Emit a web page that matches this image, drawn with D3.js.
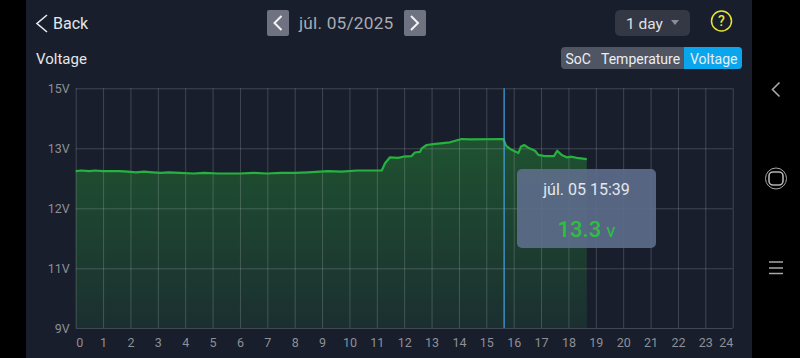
<!DOCTYPE html>
<html>
<head>
<meta charset="utf-8">
<script src="https://cdn.jsdelivr.net/npm/d3@7"></script>
<style>
  html, body { margin: 0; padding: 0; background: #000; overflow: hidden; }
  svg { display: block; font-family: Roboto, sans-serif; }
  .domain { display: none; }
</style>
</head>
<body>
<svg id="chart" width="800" height="358"></svg>
<script>
// values
const hours = [0, 0.2, 0.5, 0.7, 1, 1.3, 1.6, 1.9, 2.2, 2.5, 2.8, 3.1, 3.4, 3.8, 4.3, 4.7, 5.2, 5.6, 6, 6.5, 7, 7.5, 8, 8.5, 9.2, 9.7, 10.3, 11.12, 11.18, 11.3, 11.48, 11.78, 11.96, 12.27, 12.39, 12.58, 12.64, 12.82, 13.06, 13.67, 14.1, 14.4, 15.62, 15.72, 15.87, 16.17, 16.26, 16.38, 16.53, 16.78, 16.9, 17.14, 17.47, 17.59, 17.75, 17.94, 18.12, 18.3, 18.67];
const volts = [12.62, 12.63, 12.62, 12.63, 12.62, 12.62, 12.62, 12.61, 12.6, 12.61, 12.6, 12.59, 12.6, 12.59, 12.58, 12.59, 12.58, 12.58, 12.58, 12.59, 12.58, 12.59, 12.59, 12.6, 12.62, 12.61, 12.63, 12.63, 12.63, 12.75, 12.85, 12.84, 12.86, 12.87, 12.93, 12.94, 13.0, 13.11, 13.14, 13.2, 13.31, 13.3, 13.31, 13.09, 12.99, 12.92, 13.05, 13.11, 13.02, 12.96, 12.89, 12.87, 12.87, 12.96, 12.89, 12.85, 12.86, 12.84, 12.82];
const xTicks = d3.range(0, 25);
const yTicks = [9, 11, 12, 13, 15];
const rangeTabs = ["SoC", "Temperature", "Voltage"];
const cursorHour = 15.65;

const svg = d3.select("#chart");
svg.append("rect").attr("x", 26).attr("width", 726).attr("height", 358).attr("fill", "#181e2b");

const plotLeft = 75.7, plotRight = 732.7, plotTop = 88.3, plotBottom = 328;
const x = d3.scaleLinear().domain([0, 24]).range([plotLeft, plotRight]);
// the app spaces its y ticks evenly, so the scale is piecewise
const y = d3.scaleLinear().domain(yTicks).range([plotBottom, 268.3, 208.3, 148.3, plotTop]);

const defs = svg.append("defs");
const grad = defs.append("linearGradient").attr("id", "fillGrad").attr("x1", 0).attr("x2", 0).attr("y1", 0).attr("y2", 1);
grad.append("stop").attr("offset", "0%").attr("stop-color", "#1f5230");
grad.append("stop").attr("offset", "100%").attr("stop-color", "#1b2f30");

const data = hours.map((h, i) => ({ h, v: volts[i] }));

svg.append("path")
  .datum(data)
  .attr("fill", "url(#fillGrad)")
  .attr("d", d3.area().x(d => x(d.h)).y0(plotBottom).y1(d => y(d.v)));

// grid and tick labels
const gx = svg.append("g")
  .attr("transform", `translate(0,${plotBottom})`)
  .call(d3.axisBottom(x).tickValues(xTicks).tickFormat(d3.format("d")).tickSize(-(plotBottom - plotTop)).tickPadding(10));
gx.selectAll("line").attr("stroke", "#c8ccd4").attr("stroke-opacity", 0.23);
gx.selectAll("text")
  .attr("fill", "#8d9097").attr("font-size", 12.5).attr("font-family", "Roboto, sans-serif")
  .attr("text-anchor", d => d === 0 ? "start" : d === 24 ? "end" : "middle");

const gy = svg.append("g")
  .attr("transform", `translate(${plotLeft},0)`)
  .call(d3.axisLeft(y).tickValues(yTicks).tickFormat(d => d + "V").tickSize(-(plotRight - plotLeft)).tickPadding(6));
gy.selectAll("line").attr("stroke", "#c8ccd4").attr("stroke-opacity", 0.23);
gy.selectAll("text").attr("fill", "#8d9097").attr("font-size", 12.5).attr("font-family", "Roboto, sans-serif");

svg.append("path")
  .datum(data)
  .attr("fill", "none")
  .attr("stroke", "#27b13f")
  .attr("stroke-width", 2.2)
  .attr("stroke-linejoin", "round")
  .attr("d", d3.line().x(d => x(d.h)).y(d => y(d.v)));

// cursor
svg.append("line")
  .attr("x1", x(cursorHour)).attr("x2", x(cursorHour))
  .attr("y1", plotTop).attr("y2", plotBottom)
  .attr("stroke", "#46a3e6").attr("stroke-width", 1.2);

// tooltip
svg.append("rect")
  .attr("x", 517).attr("y", 169).attr("width", 139).attr("height", 79).attr("rx", 5)
  .attr("fill", "#5c6c8a").attr("fill-opacity", 0.92);
svg.append("text").attr("x", 586.5).attr("y", 194.5).attr("text-anchor", "middle")
  .attr("fill", "#e4e7ec").attr("font-size", 16).text("júl. 05 15:39");
const valueText = svg.append("text").attr("x", 586.5).attr("y", 237).attr("text-anchor", "middle").attr("fill", "#2cc040");
valueText.append("tspan").attr("font-size", 22).attr("font-weight", 500).text("13.3");
valueText.append("tspan").attr("font-size", 19).attr("dx", 5).text("v");

// header
const chevron = (g, cx, cy, w, h, dir, color, sw) => g.append("path")
  .attr("d", `M${cx - dir * w / 2},${cy - h / 2}L${cx + dir * w / 2},${cy}L${cx - dir * w / 2},${cy + h / 2}`)
  .attr("fill", "none").attr("stroke", color).attr("stroke-width", sw);

chevron(svg, 42, 23.5, 10, 17, -1, "#e8eaee", 1.6);
svg.append("text").attr("x", 53).attr("y", 29).attr("fill", "#e4e6ea").attr("font-size", 16).text("Back");
svg.append("text").attr("x", 36).attr("y", 64).attr("fill", "#e4e6ea").attr("font-size", 15).text("Voltage");

svg.append("rect").attr("x", 267).attr("y", 10).attr("width", 22).attr("height", 26).attr("rx", 2).attr("fill", "#6f7280");
chevron(svg, 278, 23, 7, 14, -1, "#f2f3f5", 2);
svg.append("text").attr("x", 299).attr("y", 29).attr("fill", "#a9abb1").attr("font-size", 17.3).attr("letter-spacing", 0.2).text("júl. 05/2025");
svg.append("rect").attr("x", 404).attr("y", 10).attr("width", 22).attr("height", 26).attr("rx", 2).attr("fill", "#6f7280");
chevron(svg, 414.5, 23, 7, 14, 1, "#f2f3f5", 2);

// range dropdown and help
svg.append("rect").attr("x", 615).attr("y", 10).attr("width", 75).attr("height", 26).attr("rx", 5).attr("fill", "#333844");
svg.append("text").attr("x", 626).attr("y", 29).attr("fill", "#dfe1e5").attr("font-size", 15.5).text("1 day");
svg.append("path").attr("d", "M671,20L679,20L675,25Z").attr("fill", "#8a8d95");
svg.append("circle").attr("cx", 721.5).attr("cy", 21).attr("r", 10).attr("fill", "none").attr("stroke", "#e8e337").attr("stroke-width", 1.5);
svg.append("text").attr("x", 721.5).attr("y", 26).attr("text-anchor", "middle").attr("fill", "#e8e337").attr("font-size", 14).attr("font-weight", 500).text("?");

// tabs
svg.append("rect").attr("x", 561).attr("y", 47).attr("width", 181).attr("height", 22).attr("rx", 4).attr("fill", "#4f5562");
svg.append("path").attr("d", "M684,47H738a4,4 0 0 1 4,4V65a4,4 0 0 1 -4,4H684Z").attr("fill", "#09a6ee");
const tabX = [565.5, 601, 690];
svg.selectAll(".tab").data(rangeTabs).join("text").attr("class", "tab")
  .attr("x", (d, i) => tabX[i]).attr("y", 64)
  .attr("fill", "#eceef1").attr("font-size", 14).text(d => d);

// phone nav bar
chevron(svg, 776, 89.5, 7, 14, -1, "#a8a8a8", 1.6);
svg.append("circle").attr("cx", 776).attr("cy", 178.5).attr("r", 10.5).attr("fill", "none").attr("stroke", "#a8a8a8").attr("stroke-width", 1);
svg.append("rect").attr("x", 769).attr("y", 172).attr("width", 14).attr("height", 13).attr("rx", 4).attr("fill", "none").attr("stroke", "#b4b4b4").attr("stroke-width", 1.6);
[262, 268, 273.5].forEach(yy => svg.append("line").attr("x1", 769).attr("x2", 783).attr("y1", yy).attr("y2", yy).attr("stroke", "#a8a8a8").attr("stroke-width", 1.5));
</script>
</body>
</html>
